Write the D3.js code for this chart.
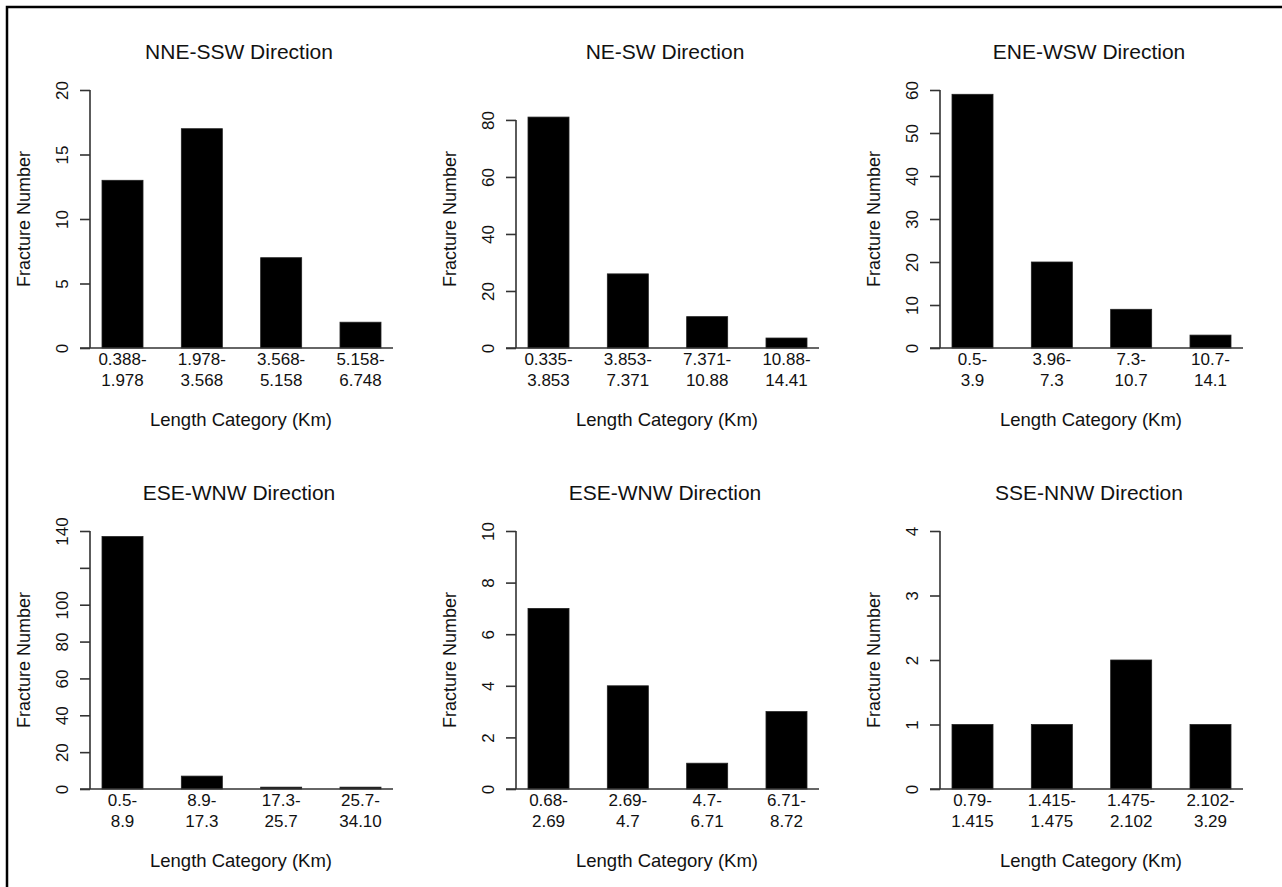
<!DOCTYPE html>
<html>
<head>
<meta charset="utf-8">
<script src="https://cdn.jsdelivr.net/npm/d3@7"></script>
<style>
  body { margin: 0; background: #fff; }
  svg { display: block; font-family: "Liberation Sans", Arial, Helvetica, sans-serif; }
</style>
</head>
<body>
<div id="chart"></div>
<script>
// panel titles
const titles = ["NNE-SSW Direction", "NE-SW Direction", "ENE-WSW Direction",
                "ESE-WNW Direction", "ESE-WNW Direction", "SSE-NNW Direction"];

// length categories (km)
const nneCats = ["0.388-1.978", "1.978-3.568", "3.568-5.158", "5.158-6.748"];
const neCats = ["0.335-3.853", "3.853-7.371", "7.371-10.88", "10.88-14.41"];
const eneCats = ["0.5-3.9", "3.96-7.3", "7.3-10.7", "10.7-14.1"];
const eseCatsA = ["0.5-8.9", "8.9-17.3", "17.3-25.7", "25.7-34.10"];
const eseCatsB = ["0.68-2.69", "2.69-4.7", "4.7-6.71", "6.71-8.72"];
const sseCats = ["0.79-1.415", "1.415-1.475", "1.475-2.102", "2.102-3.29"];

// fracture numbers
const nneVals = [13, 17, 7, 2];
const neVals = [81, 26, 11, 3.5];
const eneVals = [59, 20, 9, 3];
const eseValsA = [137, 7, 1, 1];
const eseValsB = [7, 4, 1, 3];
const sseVals = [1, 1, 2, 1];

// y axis ticks and their labels (R dropped "120" on the first ESE panel)
const nneTicks = [0, 5, 10, 15, 20];
const neTicks = [0, 20, 40, 60, 80];
const eneTicks = [0, 10, 20, 30, 40, 50, 60];
const eseTicksA = [0, 20, 40, 60, 80, 100, 120, 140];
const eseTickLabelsA = ["0", "20", "40", "60", "80", "100", "", "140"];
const eseTicksB = [0, 2, 4, 6, 8, 10];
const sseTicks = [0, 1, 2, 3, 4];

// top of each y range
const yMaxes = [20, 90.5, 60, 140, 10, 4];

const panels = [
    {title: titles[0], cats: nneCats, vals: nneVals, ticks: nneTicks, yMax: yMaxes[0]},
    {title: titles[1], cats: neCats, vals: neVals, ticks: neTicks, yMax: yMaxes[1]},
    {title: titles[2], cats: eneCats, vals: eneVals, ticks: eneTicks, yMax: yMaxes[2]},
    {title: titles[3], cats: eseCatsA, vals: eseValsA, ticks: eseTicksA, labels: eseTickLabelsA, yMax: yMaxes[3]},
    {title: titles[4], cats: eseCatsB, vals: eseValsB, ticks: eseTicksB, yMax: yMaxes[4]},
    {title: titles[5], cats: sseCats, vals: sseVals, ticks: sseTicks, yMax: yMaxes[5]}
];

const width = 1282, height = 887;
const axisX = [90, 516, 940];   // y axis position of each column
const rowTop = [90, 531];       // top of plot area for each row
const plotH = 258;

const svg = d3.select("#chart").append("svg")
    .attr("width", width)
    .attr("height", height);

// frame: only top and left edges are visible
svg.append("path")
    .attr("d", "M7,887V7H1282")
    .attr("fill", "none")
    .attr("stroke", "#000")
    .attr("stroke-width", 2.5);

panels.forEach((p, i) => {
    const ax = axisX[i % 3];
    const top = rowTop[Math.floor(i / 3)];
    const zero = top + plotH;

    const x = d3.scaleBand()
        .domain(p.cats)
        .range([ax + 12, ax + 291])
        .paddingInner(0.483)
        .paddingOuter(0);

    const y = d3.scaleLinear()
        .domain([0, p.yMax])
        .range([zero, top]);

    const g = svg.append("g");

    // bars
    g.selectAll(".bar")
        .data(p.vals)
        .enter()
        .append("rect")
        .attr("class", "bar")
        .attr("x", (d, j) => x(p.cats[j]))
        .attr("y", d => y(d))
        .attr("width", x.bandwidth())
        .attr("height", d => y(0) - y(d))
        .attr("fill", "#000")
        .attr("stroke", "#222")
        .attr("stroke-width", 0.8);

    // x axis: baseline + two-line category labels
    const xAxis = g.append("g")
        .attr("transform", "translate(0," + zero + ")")
        .call(d3.axisBottom(x).tickSize(0).tickSizeOuter(0));
    xAxis.select(".domain").remove();
    xAxis.append("line")
        .attr("x1", ax - 10)
        .attr("x2", ax + 303)
        .attr("stroke", "#333")
        .attr("stroke-width", 1.6);
    xAxis.selectAll(".tick text").each(function(d) {
        const t = d3.select(this);
        const k = d.indexOf("-");
        t.text(null)
            .attr("y", 0)
            .attr("dy", null)
            .attr("fill", "#111")
            .attr("font-size", "17px");
        t.append("tspan").attr("x", 0).attr("y", 17).text(d.slice(0, k + 1));
        t.append("tspan").attr("x", 0).attr("y", 38).text(d.slice(k + 1));
    });

    // y axis with vertical labels
    const labels = p.labels || p.ticks.map(String);
    const yAxis = g.append("g")
        .attr("transform", "translate(" + ax + ",0)")
        .call(d3.axisLeft(y)
            .tickValues(p.ticks)
            .tickFormat((d, j) => labels[j])
            .tickSize(10)
            .tickSizeOuter(0));
    yAxis.select(".domain").remove();
    yAxis.append("line")
        .attr("y1", y(p.ticks[0]))
        .attr("y2", y(p.ticks[p.ticks.length - 1]))
        .attr("stroke", "#333")
        .attr("stroke-width", 1.6);
    yAxis.selectAll(".tick line")
        .attr("stroke", "#333")
        .attr("stroke-width", 1.6);
    yAxis.selectAll(".tick text")
        .attr("transform", "rotate(-90)")
        .attr("x", 0)
        .attr("y", -22)
        .attr("dy", null)
        .attr("text-anchor", "middle")
        .attr("fill", "#111")
        .attr("font-size", "17px");

    // titles
    g.append("text")
        .attr("x", ax + 149)
        .attr("y", top - 31)
        .attr("text-anchor", "middle")
        .attr("font-size", "21px")
        .attr("fill", "#111")
        .text(p.title);

    g.append("text")
        .attr("x", ax + 151)
        .attr("y", zero + 78)
        .attr("text-anchor", "middle")
        .attr("font-size", "18.5px")
        .attr("fill", "#111")
        .text("Length Category (Km)");

    g.append("text")
        .attr("transform", "translate(" + (ax - 60) + "," + (top + plotH / 2) + ") rotate(-90)")
        .attr("text-anchor", "middle")
        .attr("font-size", "18px")
        .attr("fill", "#111")
        .text("Fracture Number");
});
</script>
</body>
</html>
